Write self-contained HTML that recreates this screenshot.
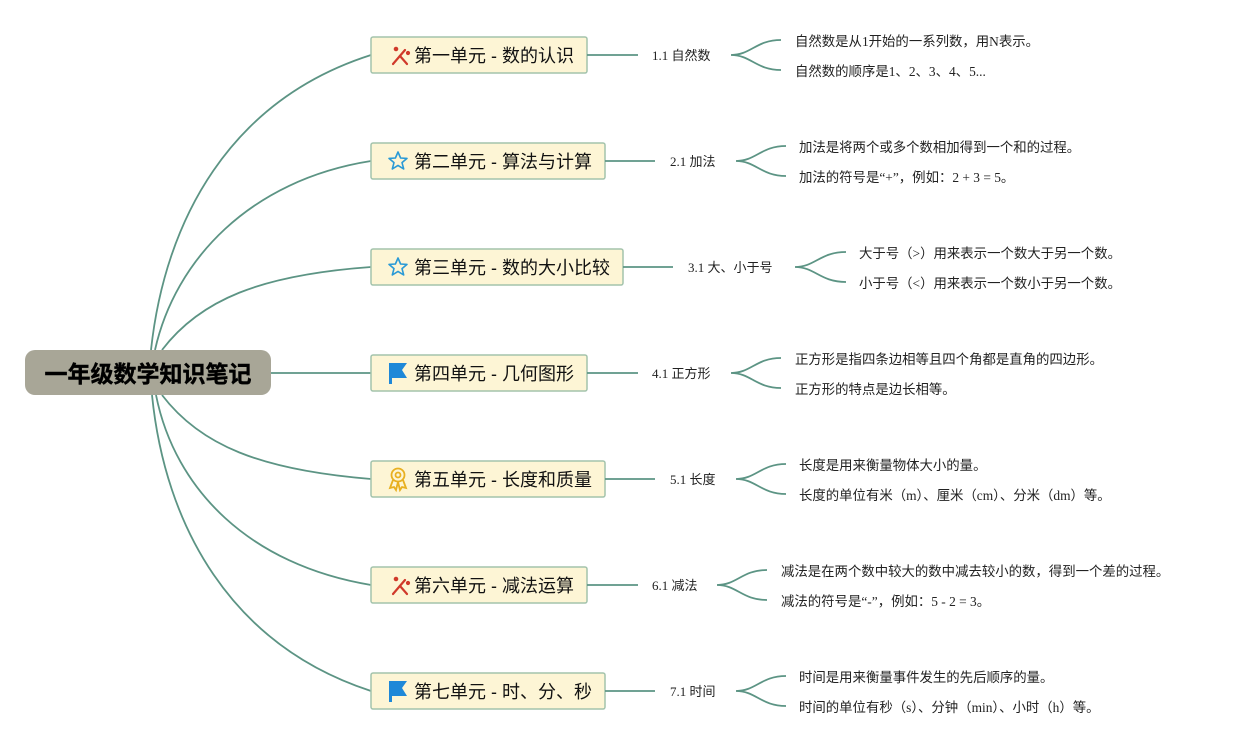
<!DOCTYPE html>
<html><head><meta charset="utf-8"><style>
html,body{margin:0;padding:0;background:#fff;}
svg{display:block}
.u{font-family:"Liberation Sans","Noto Sans CJK SC",sans-serif;font-size:18px;fill:#111}
.s{font-family:"Liberation Serif","Noto Sans CJK SC",serif;font-size:13px;fill:#222}
.l{font-family:"Liberation Serif","Noto Sans CJK SC",serif;font-size:13.4px;fill:#222}
.c{fill:none;stroke:#5c9484;stroke-width:1.8}
.b{fill:#fdf5d5;stroke:#a3c3ac;stroke-width:1.5}
</style></head><body>
<svg width="1247" height="746" viewBox="0 0 1247 746" xmlns="http://www.w3.org/2000/svg">
<path class="c" d="M151 350 C 165 220, 230 100, 371 55"/>
<path class="c" d="M155 350 C 175 260, 250 180, 371 161"/>
<path class="c" d="M162 350 C 200 300, 260 275, 371 267"/>
<path class="c" d="M271 373 L 371 373"/>
<path class="c" d="M162 395 C 200 445, 260 470, 371 479"/>
<path class="c" d="M156 395 C 175 490, 250 565, 371 585"/>
<path class="c" d="M152 395 C 165 525, 230 645, 371 691"/>
<rect x="25" y="350" width="246" height="45" rx="10" fill="#a8a697"/>
<text x="148" y="382" text-anchor="middle" font-family="Liberation Sans,Noto Sans CJK SC,sans-serif" font-size="23" font-weight="bold" fill="#000" stroke="#000" stroke-width="0.4">一年级数学知识笔记</text>

<rect class="b" x="371" y="37" width="216" height="36" rx="2"/>
<text class="u" x="414" y="62">第一单元 - 数的认识</text>
<path class="c" d="M587 55 L638 55"/>
<text class="s" x="652" y="60">1.1 自然数</text>
<path class="c" d="M731 55 C751 55,756 40,781 40 M731 55 C751 55,756 70,781 70"/>
<text class="l" x="795" y="46">自然数是从1开始的一系列数，用N表示。</text>
<text class="l" x="795" y="76">自然数的顺序是1、2、3、4、5...</text>

<rect class="b" x="371" y="143" width="234" height="36" rx="2"/>
<text class="u" x="414" y="168">第二单元 - 算法与计算</text>
<path class="c" d="M605 161 L655 161"/>
<text class="s" x="670" y="166">2.1 加法</text>
<path class="c" d="M736 161 C756 161,761 146,786 146 M736 161 C756 161,761 176,786 176"/>
<text class="l" x="799" y="152">加法是将两个或多个数相加得到一个和的过程。</text>
<text class="l" x="799" y="182">加法的符号是“+”，例如：2 + 3 = 5。</text>

<rect class="b" x="371" y="249" width="252" height="36" rx="2"/>
<text class="u" x="414" y="274">第三单元 - 数的大小比较</text>
<path class="c" d="M623 267 L673 267"/>
<text class="s" x="688" y="272">3.1 大、小于号</text>
<path class="c" d="M795 267 C815 267,820 252,846 252 M795 267 C815 267,820 282,846 282"/>
<text class="l" x="859" y="258">大于号（>）用来表示一个数大于另一个数。</text>
<text class="l" x="859" y="288">小于号（<）用来表示一个数小于另一个数。</text>

<rect class="b" x="371" y="355" width="216" height="36" rx="2"/>
<text class="u" x="414" y="380">第四单元 - 几何图形</text>
<path class="c" d="M587 373 L638 373"/>
<text class="s" x="652" y="378">4.1 正方形</text>
<path class="c" d="M731 373 C751 373,756 358,781 358 M731 373 C751 373,756 388,781 388"/>
<text class="l" x="795" y="364">正方形是指四条边相等且四个角都是直角的四边形。</text>
<text class="l" x="795" y="394">正方形的特点是边长相等。</text>

<rect class="b" x="371" y="461" width="234" height="36" rx="2"/>
<text class="u" x="414" y="486">第五单元 - 长度和质量</text>
<path class="c" d="M605 479 L655 479"/>
<text class="s" x="670" y="484">5.1 长度</text>
<path class="c" d="M736 479 C756 479,761 464,786 464 M736 479 C756 479,761 494,786 494"/>
<text class="l" x="799" y="470">长度是用来衡量物体大小的量。</text>
<text class="l" x="799" y="500">长度的单位有米（m）、厘米（cm）、分米（dm）等。</text>

<rect class="b" x="371" y="567" width="216" height="36" rx="2"/>
<text class="u" x="414" y="592">第六单元 - 减法运算</text>
<path class="c" d="M587 585 L638 585"/>
<text class="s" x="652" y="590">6.1 减法</text>
<path class="c" d="M717 585 C737 585,742 570,767 570 M717 585 C737 585,742 600,767 600"/>
<text class="l" x="781" y="576">减法是在两个数中较大的数中减去较小的数，得到一个差的过程。</text>
<text class="l" x="781" y="606">减法的符号是“-”，例如：5 - 2 = 3。</text>

<rect class="b" x="371" y="673" width="234" height="36" rx="2"/>
<text class="u" x="414" y="698">第七单元 - 时、分、秒</text>
<path class="c" d="M605 691 L655 691"/>
<text class="s" x="670" y="696">7.1 时间</text>
<path class="c" d="M736 691 C756 691,761 676,786 676 M736 691 C756 691,761 706,786 706"/>
<text class="l" x="799" y="682">时间是用来衡量事件发生的先后顺序的量。</text>
<text class="l" x="799" y="712">时间的单位有秒（s）、分钟（min）、小时（h）等。</text>

<g stroke="#d0392b" stroke-width="2.2" stroke-linecap="round" fill="#d0392b">
<line x1="393" y1="64" x2="405" y2="50"/><line x1="400" y1="56" x2="407" y2="64"/><circle cx="396" cy="49" r="1.2"/><circle cx="408" cy="53" r="1"/>
<line x1="393" y1="594" x2="405" y2="580"/><line x1="400" y1="586" x2="407" y2="594"/><circle cx="396" cy="579" r="1.2"/><circle cx="408" cy="583" r="1"/>
</g>
<g fill="none" stroke="#2a9ad6" stroke-width="1.6" stroke-linejoin="round">
<path d="M398 152 L400.6 158 L407 158.4 L402 162.6 L403.7 169 L398 165.4 L392.3 169 L394 162.6 L389 158.4 L395.4 158 Z"/>
<path d="M398 258 L400.6 264 L407 264.4 L402 268.6 L403.7 275 L398 271.4 L392.3 275 L394 268.6 L389 264.4 L395.4 264 Z"/>
</g>
<g fill="#1e88d8">
<path d="M389 363 L407 363 L402 370 L407 378 L392 378 L392 384 L389 384 Z"/>
<path d="M389 681 L407 681 L402 688 L407 696 L392 696 L392 702 L389 702 Z"/>
</g>
<g fill="none" stroke="#e8b020" stroke-width="1.8">
<circle cx="398" cy="475" r="6.5"/><circle cx="398" cy="475" r="2.5"/>
<path d="M393 480 L390 488 L394 487 L396 490 L398 482 M403 480 L406 488 L402 487 L400 490 L398 482"/>
</g>
</svg>
</body></html>
